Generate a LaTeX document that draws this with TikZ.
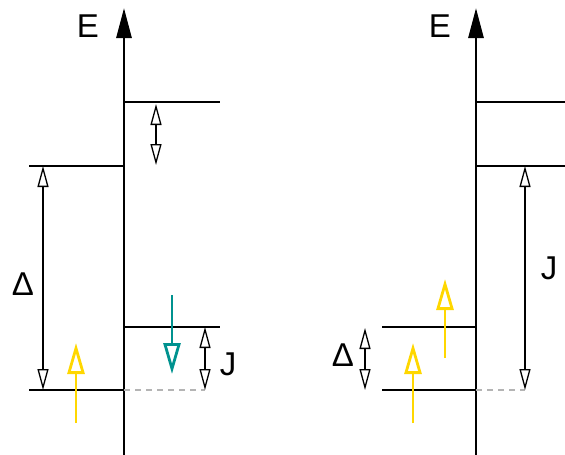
\documentclass[tikz,border=0pt]{standalone}
\usepackage{fontspec}
\setmainfont{Liberation Sans}
\usepackage{xcolor}
\usetikzlibrary{arrows.meta}
\definecolor{spinup}{HTML}{FFD700}
\definecolor{spindown}{HTML}{00928F}
\definecolor{guide}{HTML}{B4B4B4}
\tikzset{
  eaxis/.style={line width=2.8pt,-{Triangle[length=30pt 0 0,width=15pt 0 0]}},
  elevel/.style={line width=2.8pt},
  egap/.style={line width=1.3pt,{Triangle[open,length=21pt 0 0,width=11pt 0 0]}-{Triangle[open,length=21pt 0 0,width=11pt 0 0]}},
  eguide/.style={line width=1.5pt,draw=guide,dash pattern=on 6pt off 5pt},
  sup/.style={line width=2.8pt,draw=spinup,-{Triangle[open,length=31pt 0 0,width=17pt 0 0]}},
  sdown/.style={line width=2.8pt,draw=spindown,-{Triangle[open,length=31pt 0 0,width=17pt 0 0]}},
  elabel/.style={font=\fontsize{33}{35}\selectfont,inner sep=0pt}
}
\begin{document}
\begin{tikzpicture}[x=1pt,y=-1pt]
  \useasboundingbox (0,0) rectangle (565,455);
  % left panel
  \coordinate (la0) at (124,455); \coordinate (la1) at (124,8);
  \draw[eaxis] (la0) -- (la1);
  \node[elabel] (lE) at (88,26) {E};
  \coordinate (lt1) at (124,102); \coordinate (lt2) at (220,102);
  \coordinate (lu1) at (29,166);  \coordinate (lu2) at (124,166);
  \coordinate (lm1) at (124,327); \coordinate (lm2) at (220,327);
  \coordinate (lb1) at (29,390);  \coordinate (lb2) at (124,390);
  \draw[elevel] (lt1) -- (lt2); \draw[elevel] (lu1) -- (lu2);
  \draw[elevel] (lm1) -- (lm2); \draw[elevel] (lb1) -- (lb2);
  \coordinate (lg) at (205,390);
  \draw[eguide] (lb2) -- (lg);
  \coordinate (ls1) at (156,104); \coordinate (ls2) at (156,165);
  \draw[egap] (ls1) -- (ls2);
  \coordinate (ld1) at (43,166); \coordinate (ld2) at (43,390);
  \draw[egap] (ld1) -- (ld2);
  \node[elabel] (lD) at (23,284) {Δ};
  \coordinate (lj1) at (205,327); \coordinate (lj2) at (205,390);
  \draw[egap] (lj1) -- (lj2);
  \node[elabel] (lJ) at (228,364) {J};
  \coordinate (ly1) at (76,423); \coordinate (ly2) at (76,343);
  \draw[sup] (ly1) -- (ly2);
  \coordinate (lc1) at (172,295); \coordinate (lc2) at (172,374);
  \draw[sdown] (lc1) -- (lc2);
  % right panel
  \coordinate (ra0) at (476,455); \coordinate (ra1) at (476,8);
  \draw[eaxis] (ra0) -- (ra1);
  \node[elabel] (rE) at (440,26) {E};
  \coordinate (rt1) at (476,102); \coordinate (rt2) at (565,102);
  \coordinate (ru1) at (476,166); \coordinate (ru2) at (565,166);
  \coordinate (rm1) at (382,327); \coordinate (rm2) at (476,327);
  \coordinate (rb1) at (382,390); \coordinate (rb2) at (476,390);
  \draw[elevel] (rt1) -- (rt2); \draw[elevel] (ru1) -- (ru2);
  \draw[elevel] (rm1) -- (rm2); \draw[elevel] (rb1) -- (rb2);
  \coordinate (rg) at (525,390);
  \draw[eguide] (rb2) -- (rg);
  \coordinate (rj1) at (525,166); \coordinate (rj2) at (525,390);
  \draw[egap] (rj1) -- (rj2);
  \node[elabel] (rJ) at (549,268) {J};
  \coordinate (rd1) at (365,328); \coordinate (rd2) at (365,390);
  \draw[egap] (rd1) -- (rd2);
  \node[elabel] (rD) at (343,355) {Δ};
  \coordinate (ry1) at (413,423); \coordinate (ry2) at (413,343);
  \draw[sup] (ry1) -- (ry2);
  \coordinate (rx1) at (445,358); \coordinate (rx2) at (445,279);
  \draw[sup] (rx1) -- (rx2);
\end{tikzpicture}
\end{document}
